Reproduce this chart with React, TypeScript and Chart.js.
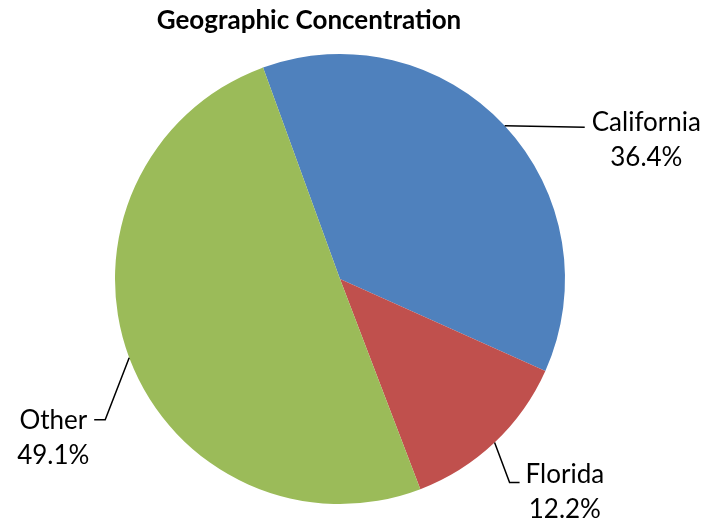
import React, { useEffect, useRef } from "react";
import { Chart, registerables } from "chart.js";

Chart.register(...registerables);

const TITLE = "Geographic Concentration";
const categories = ["California", "Florida", "Other"];
const shares = [36.4, 12.2, 49.1];
const colors = ["#4F81BD", "#C0504D", "#9BBB59"];

// leader-line geometry per label: elbow offset from arc edge, then horizontal tail
const leaderCfg = [
  { elbow: [80, 1.5], tail: 0, side: "right", gap: 7, dy: 4 },
  { elbow: [15, 40], tail: 10, side: "right", gap: 6, dy: 1 },
  { elbow: [-24, 62], tail: -11, side: "left", gap: 7, dy: 9 },
];

const labelPlugin = {
  id: "pieLabels",
  afterDraw(chart: any) {
    const ctx = chart.ctx;
    const meta = chart.getDatasetMeta(0);
    ctx.save();
    // title
    ctx.fillStyle = "#000";
    ctx.font = "bold 26px Lato";
    ctx.textAlign = "center";
    ctx.textBaseline = "alphabetic";
    ctx.fillText(TITLE, 309, 29);

    ctx.font = "26px Lato";
    meta.data.forEach((arc: any, i: number) => {
      const { x, y, startAngle, endAngle, outerRadius } = arc.getProps(
        ["x", "y", "startAngle", "endAngle", "outerRadius"],
        true
      );
      const mid = (startAngle + endAngle) / 2;
      const ex = x + outerRadius * Math.cos(mid);
      const ey = y + outerRadius * Math.sin(mid);
      const c = leaderCfg[i];
      const bx = ex + c.elbow[0];
      const by = ey + c.elbow[1];
      const tx = bx + c.tail;
      ctx.strokeStyle = "#000";
      ctx.lineWidth = 1.5;
      ctx.beginPath();
      ctx.moveTo(ex, ey);
      ctx.lineTo(bx, by);
      ctx.lineTo(tx, by);
      ctx.stroke();

      const l1 = categories[i];
      const l2 = shares[i].toFixed(1) + "%";
      const w1 = ctx.measureText(l1).width;
      let cx;
      if (c.side === "right") cx = tx + c.gap + w1 / 2;
      else cx = tx - c.gap - w1 / 2;
      ctx.textAlign = "center";
      ctx.fillStyle = "#000";
      ctx.fillText(l1, cx, by + c.dy);
      ctx.fillText(l2, cx, by + c.dy + 35);
    });
    ctx.restore();
  },
};

export default function App() {
  const ref = useRef<HTMLCanvasElement>(null);
  useEffect(() => {
    if (!ref.current) return;
    const chart = new Chart(ref.current, {
      type: "pie",
      data: {
        labels: categories,
        datasets: [
          {
            data: shares,
            backgroundColor: colors,
            borderWidth: 0,
          },
        ],
      },
      options: {
        responsive: false,
        animation: false,
        rotation: -20,
        layout: { padding: { left: 115, top: 54, right: 148, bottom: 25 } },
        plugins: {
          legend: { display: false },
          title: { display: false },
          tooltip: { enabled: false },
        },
      },
      plugins: [labelPlugin],
    });
    return () => chart.destroy();
  }, []);
  return (
    <div style={{ position: "absolute", left: 0, top: 0, width: 713, height: 529, background: "#fff" }}>
      <canvas ref={ref} width={713} height={529} />
    </div>
  );
}
